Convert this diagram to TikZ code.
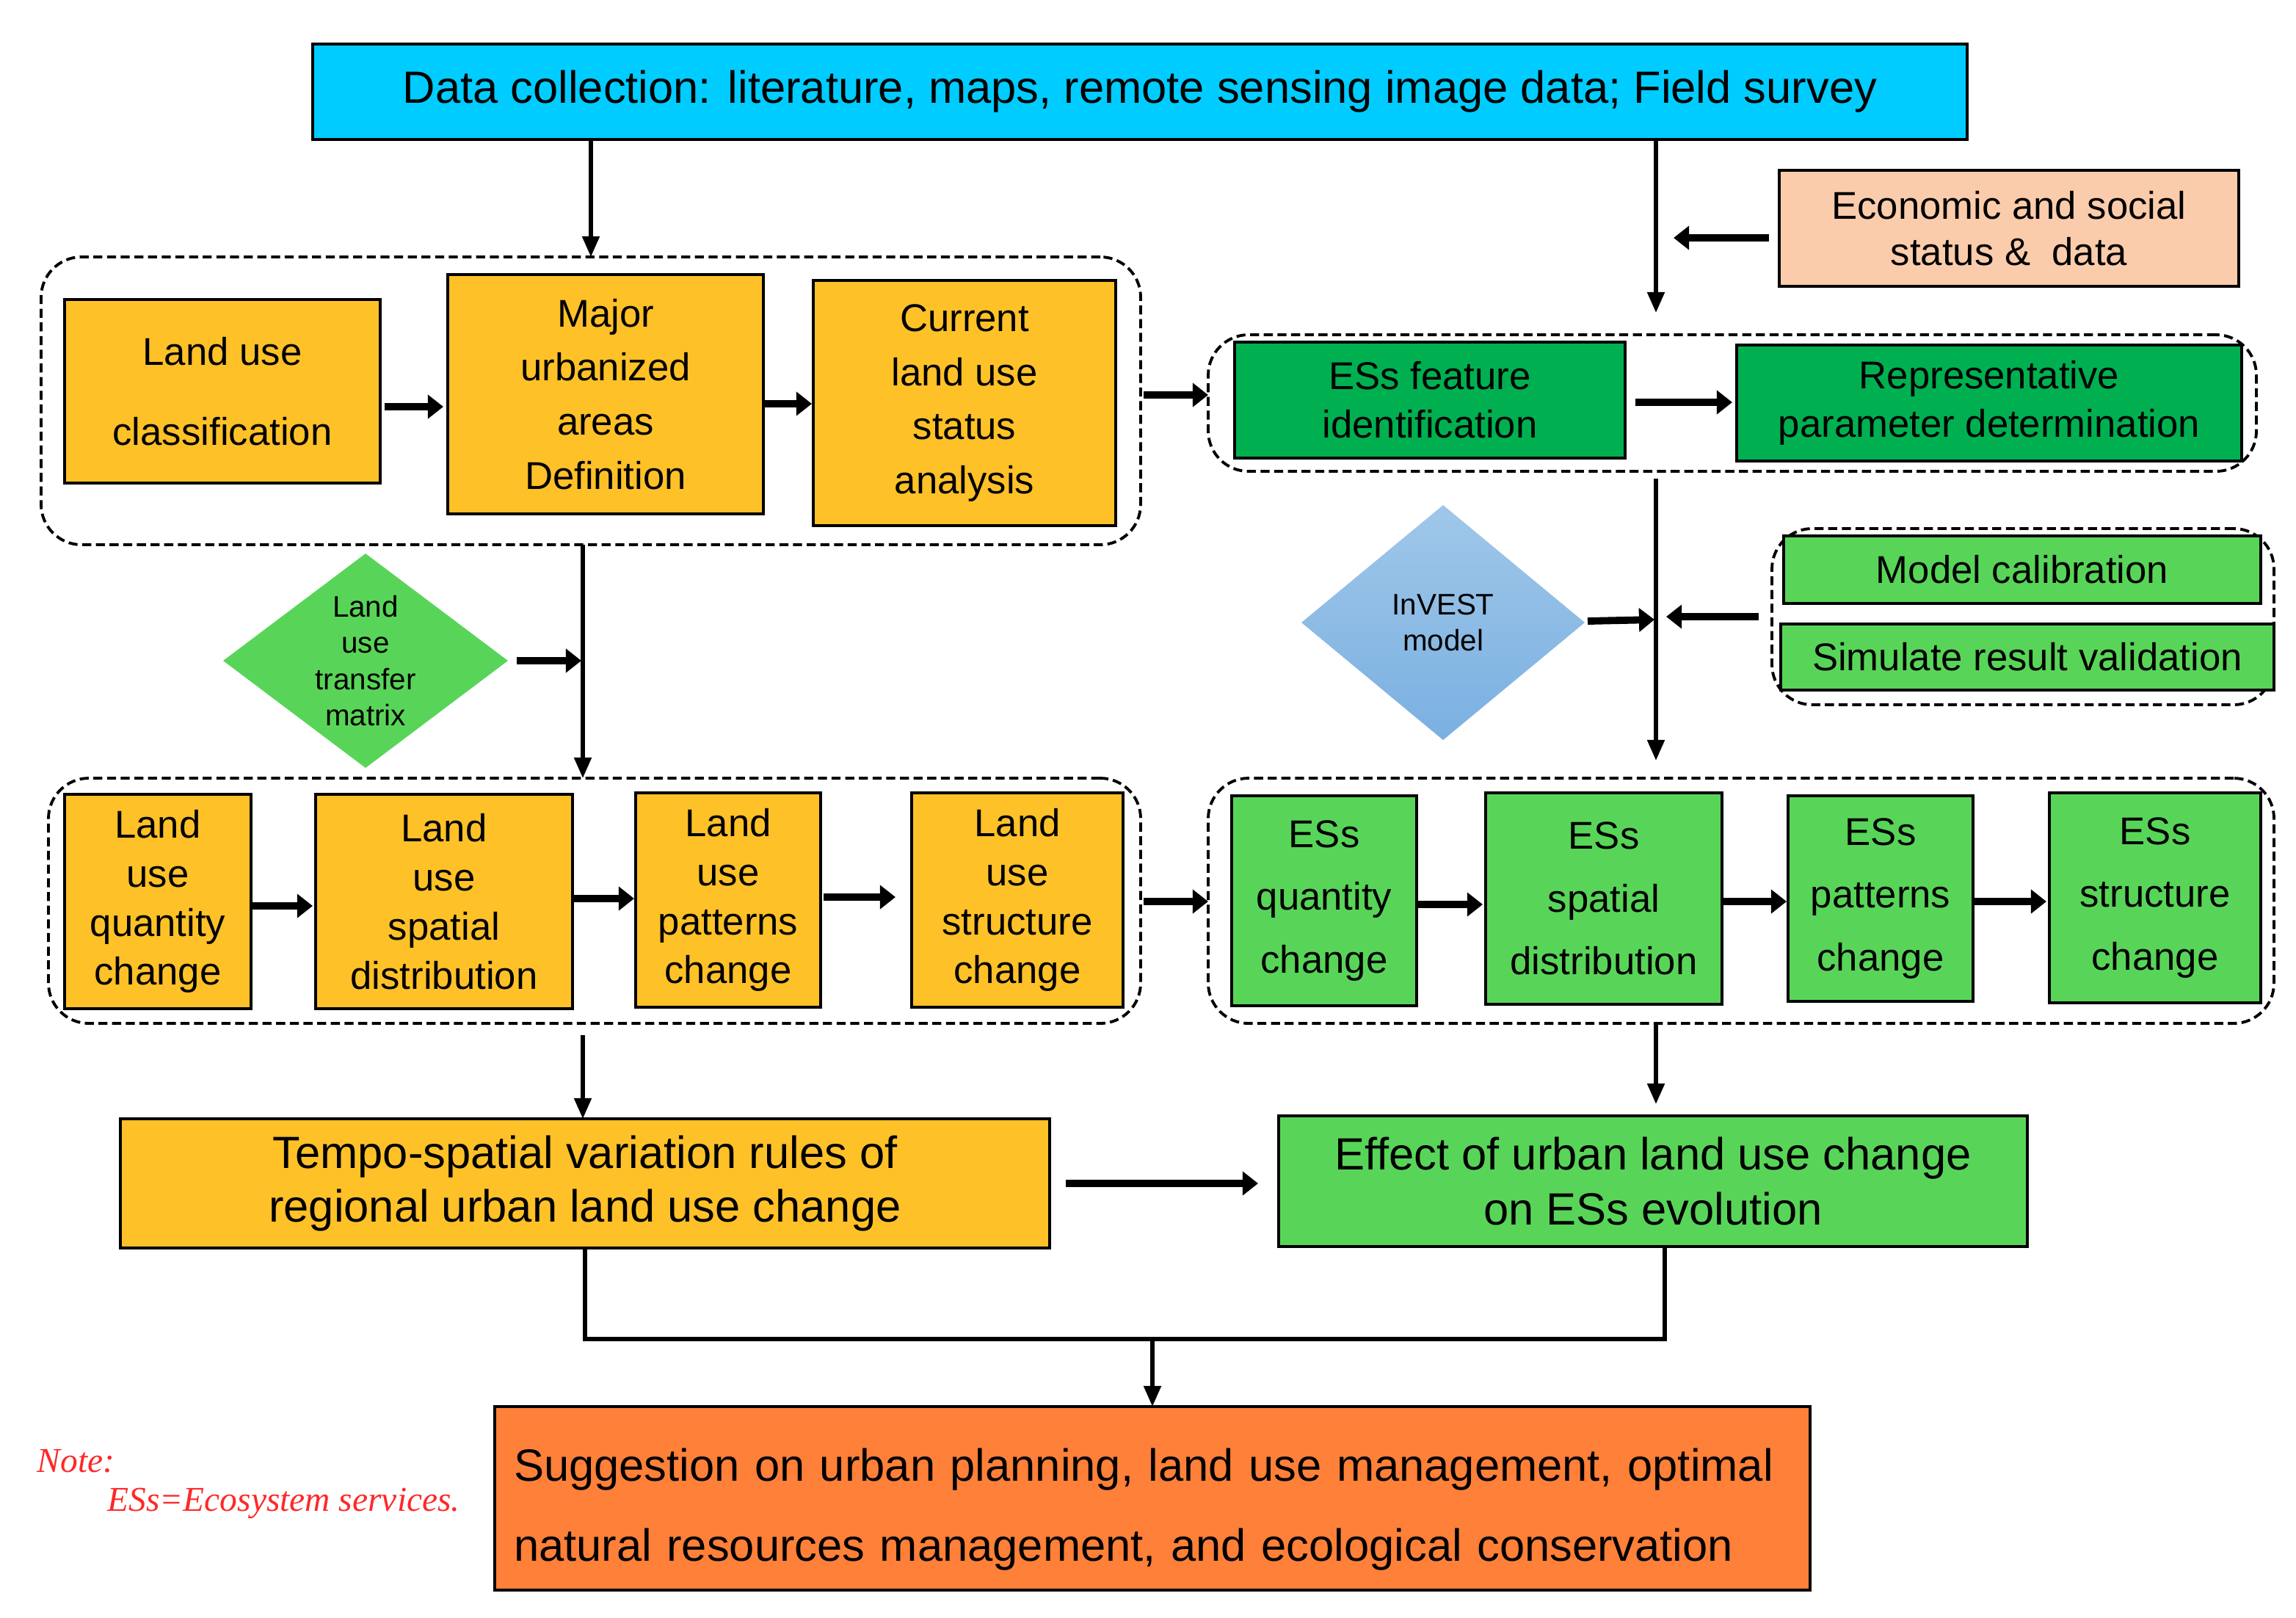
\documentclass[tikz,border=0pt]{standalone}
\usepackage{fontspec}
\setmainfont{Liberation Sans}
\newfontfamily\tmsfont{Liberation Serif}
\usetikzlibrary{arrows.meta,shapes.geometric,calc}
\definecolor{cyanC}{RGB}{0,204,255}
\definecolor{peachC}{RGB}{251,204,171}
\definecolor{yelC}{RGB}{255,193,40}
\definecolor{dgreenC}{RGB}{0,176,80}
\definecolor{lgreenC}{RGB}{88,213,88}
\definecolor{orC}{RGB}{255,128,56}
\definecolor{blueTop}{RGB}{160,199,233}
\definecolor{blueBot}{RGB}{122,176,225}
\definecolor{noteC}{RGB}{255,40,40}
\newcommand{\fsz}[2]{\fontsize{#1}{#2}\selectfont}
\newcommand{\bx}[7]{\node[#6, minimum width={(#4-#2)*0.02cm}, minimum height={(#5-#3)*0.02cm}] (#1) at ({(#2+#4)/2},{(#3+#5)/2}) {#7};}
\newcommand{\harr}[5]{\coordinate (hy) at (0,#4); \draw[#1,#5] (#2.east |- hy) -- (#3.west |- hy);}
\tikzset{
  box/.style={draw=black, line width=1.3pt, inner sep=0pt, outer sep=0pt, align=center},
  grp/.style={draw=black, line width=1.1pt, dash pattern=on 3.5pt off 1.8pt, rounded corners=0.55cm, inner sep=0pt, outer sep=0pt},
  tarr/.style={line width=1.6pt, -{Triangle[length=8pt,width=6.5pt]}},
  karr/.style={line width=2.8pt, -{Triangle[length=6pt,width=9pt]}},
  tline/.style={line width=1.6pt},
}
\begin{document}
\begin{tikzpicture}[x=0.02cm,y=-0.02cm]
\fill[white] (0,0) rectangle (1564,1101.5);
\useasboundingbox (0,0) rectangle (1564,1101.5);
% top
\bx{data}{213}{30}{1340}{95}{box,fill=cyanC,font=\fsz{17.5}{21}}{Data collection: literature, maps, remote sensing image data; Field survey}
\bx{econ}{1212}{116}{1525}{195}{box,fill=peachC,font=\fsz{15}{18}}{Economic and social\\status \& \ data}
% upper left group
\bx{lgA}{28}{175}{777}{371}{grp}{}
\bx{luc}{44}{204}{259}{329}{box,fill=yelC,font=\fsz{15}{31}}{Land use\\classification}
\bx{mua}{305}{187}{520}{350}{box,fill=yelC,font=\fsz{15}{21}}{Major\\urbanized\\areas\\Definition}
\bx{cur}{554}{191}{760}{358}{box,fill=yelC,font=\fsz{15}{21}}{Current\\land use\\status\\analysis}
% upper right group
\bx{rgA}{823}{228}{1537}{321}{grp}{}
\bx{esf}{841}{233}{1107}{312}{box,fill=dgreenC,font=\fsz{15}{18.7}}{ESs feature\\identification}
\bx{rep}{1183}{235}{1527}{314}{box,fill=dgreenC,font=\fsz{15}{18.7}}{Representative\\parameter determination}
% calibration group
\bx{rgB}{1207}{360}{1549}{480}{grp}{}
\bx{cal}{1215}{365}{1540}{411}{box,fill=lgreenC,font=\fsz{15}{18}}{Model calibration}
\bx{sim}{1213}{425}{1549}{470}{box,fill=lgreenC,font=\fsz{15}{18}}{Simulate result validation}
% diamonds
\node[diamond, aspect=1.33, fill=lgreenC, inner sep=0pt, outer sep=0pt, minimum width=3.88cm, minimum height=2.92cm, align=center, font=\fsz{11.5}{14}] (lutm) at (249,450) {Land\\use\\transfer\\matrix};
\node[diamond, aspect=1.2, top color=blueTop, bottom color=blueBot, inner sep=0pt, outer sep=0pt, minimum width=3.86cm, minimum height=3.2cm, align=center, font=\fsz{11.5}{14}] (inv) at (983,424) {InVEST\\model};
% lower left group
\bx{lgB}{33}{530}{777}{697}{grp}{}
\bx{luq}{44}{541}{171}{687}{box,fill=yelC,font=\fsz{15}{19}}{Land\\use\\quantity\\change}
\bx{lus}{215}{541}{390}{687}{box,fill=yelC,font=\fsz{15}{19}}{Land\\use\\spatial\\distribution}
\bx{lup}{433}{540}{559}{686}{box,fill=yelC,font=\fsz{15}{19}}{Land\\use\\patterns\\change}
\bx{lust}{621}{540}{765}{686}{box,fill=yelC,font=\fsz{15}{19}}{Land\\use\\structure\\change}
% lower right group
\bx{rgC}{823}{530}{1549}{697}{grp}{}
\bx{esq}{839}{542}{965}{685}{box,fill=lgreenC,font=\fsz{15}{24.4}}{ESs\\quantity\\change}
\bx{ess}{1012}{540}{1173}{684}{box,fill=lgreenC,font=\fsz{15}{24.4}}{ESs\\spatial\\distribution}
\bx{esp}{1218}{542}{1344}{682}{box,fill=lgreenC,font=\fsz{15}{24.4}}{ESs\\patterns\\change}
\bx{esst}{1396}{540}{1540}{683}{box,fill=lgreenC,font=\fsz{15}{24.4}}{ESs\\structure\\change}
% results
\bx{tempo}{82}{762}{715}{850}{box,fill=yelC,font=\fsz{17.5}{21}}{Tempo-spatial variation rules of\\regional urban land use change}
\bx{effect}{871}{760}{1381}{849}{box,fill=lgreenC,font=\fsz{17.5}{21.5}}{Effect of urban land use change\\on ESs evolution}
\bx{sug}{337}{958}{1233}{1083}{box,fill=orC,font=\fsz{17.5}{31},align=left,text width={(896-26)*0.02cm}}{\rule{0pt}{21pt}Suggestion on urban planning, land use management, optimal\\natural resources management, and ecological conservation}
% note
\node[anchor=west, inner sep=0pt, text=noteC, font=\tmsfont\itshape\fsz{13.5}{16}] (note1) at (25,995) {Note:};
\node[anchor=west, inner sep=0pt, text=noteC, font=\tmsfont\itshape\fsz{13.5}{16}] (note2) at (73,1024) {ESs=Ecosystem services.};
% spines
\coordinate (rs) at (1128,0);
\coordinate (ls) at (397,0);
\coordinate (ex) at (1134,0);
\coordinate (mx) at (785,912);
\draw[tarr] (data.south -| lgA.north) -- (lgA.north);
\draw[tarr] (data.south -| rs) -- ($(rgA.north -| rs)+(0,-15)$);
\coordinate (e1) at ($(econ.west)+(-7,6.5)$);
\draw[karr] (e1) -- ($(e1 -| rs)+(12,0)$);
\harr{karr}{luc}{mua}{277}{shorten <=0.06cm, shorten >=0.06cm}
\harr{karr}{mua}{cur}{275}{shorten <=0.02cm, shorten >=0.02cm}
\harr{karr}{lgA}{rgA}{269}{shorten <=0.04cm}
\harr{karr}{esf}{rep}{274}{shorten <=0.14cm, shorten >=0.06cm}
\draw[tarr] ($(rgA.south -| rs)+(0,5)$) -- ($(rgC.north -| rs)+(0,-12)$);
\draw[karr] ($(inv.east)+(2,-1)$) -- ($(inv.east -| rs)+(-1,-2)$);
\draw[karr] ($(rgB.west)+(-9,0)$) -- ($(rgB.west -| rs)+(7,0)$);
\draw[tarr] (lgA.south -| ls) -- (lgB.north -| ls);
\draw[karr] ($(lutm.east)+(6,0)$) -- ($(lutm.east -| ls)+(-1,0)$);
\harr{karr}{luq}{lus}{617}{shorten <=0.02cm, shorten >=0.04cm}
\harr{karr}{lus}{lup}{612}{shorten <=0.02cm, shorten >=0.02cm}
\harr{karr}{lup}{lust}{611}{shorten <=0.04cm, shorten >=0.22cm}
\harr{karr}{lgB}{rgC}{614}{shorten <=0.04cm}
\harr{karr}{esq}{ess}{616}{shorten <=0.02cm, shorten >=0.04cm}
\harr{karr}{ess}{esp}{614}{shorten <=0.02cm, shorten >=0.02cm}
\harr{karr}{esp}{esst}{614}{shorten <=0.02cm, shorten >=0.04cm}
\draw[tarr] ($(lgB.south -| ls)+(0,8)$) -- (tempo.north -| ls);
\draw[tarr] (rgC.south -| rs) -- ($(effect.north -| rs)+(0,-8)$);
\harr{karr}{tempo}{effect}{806}{shorten <=0.22cm, shorten >=0.28cm}
\draw[tline] (tempo.south) |- (ex |- mx) -- (effect.south -| ex);
\draw[tarr] (mx) -- (sug.north -| mx);
\end{tikzpicture}
\end{document}
